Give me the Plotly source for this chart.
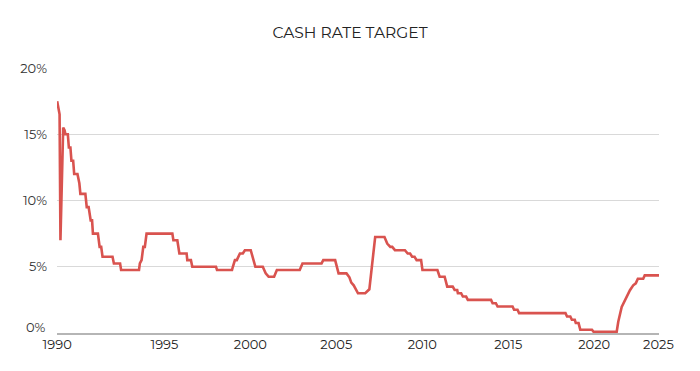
import plotly.graph_objects as go

# Decimal-year positions (as laid out on the chart) and cash rate target values (%)
years = [
    1988.76, 1988.90, 1988.95, 1989.11, 1989.19, 1989.24, 1989.38, 1989.44, 1989.53,
    1989.59, 1989.69, 1989.75, 1989.94, 1990.05, 1990.11, 1990.40, 1990.48, 1990.59,
    1990.71, 1990.79, 1990.84, 1991.13, 1991.23, 1991.32, 1991.40, 1991.98, 1992.06,
    1992.42, 1992.48, 1993.52, 1993.57, 1993.67, 1993.77, 1993.86, 1993.96, 1995.46,
    1995.52, 1995.75, 1995.87, 1996.29, 1996.33, 1996.54, 1996.62, 1998.00, 1998.06,
    1998.93, 1998.98, 1999.10, 1999.21, 1999.39, 1999.56, 1999.68, 2000.02, 2000.29,
    2000.72, 2000.81, 2000.89, 2001.06, 2001.38, 2001.54, 2002.87, 2003.03, 2004.14,
    2004.24, 2004.93, 2005.13, 2005.59, 2005.76, 2005.87, 2006.01, 2006.26, 2006.68,
    2006.84, 2006.92, 2007.26, 2007.80, 2007.96, 2008.14, 2008.25, 2008.41, 2008.99,
    2009.15, 2009.29, 2009.41, 2009.55, 2009.67, 2009.93, 2010.01, 2010.88, 2011.01,
    2011.30, 2011.45, 2011.77, 2011.88, 2012.03, 2012.07, 2012.26, 2012.36, 2012.55,
    2012.65, 2014.00, 2014.09, 2014.28, 2014.38, 2015.25, 2015.34, 2015.54, 2015.63,
    2018.33, 2018.42, 2018.61, 2018.70, 2018.87, 2018.93, 2019.09, 2019.19, 2019.87,
    2019.96, 2021.31, 2021.40, 2021.60, 2021.79, 2022.08, 2022.27, 2022.42, 2022.54,
    2022.85, 2022.94, 2023.77,
]
rates = [
    17.5, 16.5, 7.0, 15.5, 15.3, 15.0, 15.0, 14.0, 14.0,
    13.0, 13.0, 12.0, 12.0, 11.3, 10.5, 10.5, 9.5, 9.5,
    8.5, 8.5, 7.5, 7.5, 6.5, 6.5, 5.75, 5.75, 5.25,
    5.25, 4.75, 4.75, 5.25, 5.5, 6.5, 6.5, 7.5, 7.5,
    7.0, 7.0, 6.0, 6.0, 5.5, 5.5, 5.0, 5.0, 4.75,
    4.75, 5.0, 5.5, 5.5, 6.0, 6.0, 6.25, 6.25, 5.0,
    5.0, 4.75, 4.5, 4.25, 4.25, 4.75, 4.75, 5.25, 5.25,
    5.5, 5.5, 4.5, 4.5, 4.2, 3.8, 3.6, 3.0, 3.0,
    3.25, 3.3, 7.25, 7.25, 6.75, 6.5, 6.5, 6.25, 6.25,
    6.0, 6.0, 5.75, 5.75, 5.5, 5.5, 4.75, 4.75, 4.25,
    4.25, 3.5, 3.5, 3.25, 3.25, 3.0, 3.0, 2.75, 2.75,
    2.5, 2.5, 2.25, 2.25, 2.0, 2.0, 1.75, 1.75, 1.5,
    1.5, 1.25, 1.25, 1.0, 1.0, 0.75, 0.75, 0.25, 0.25,
    0.1, 0.1, 0.85, 1.97, 2.47, 3.23, 3.6, 3.75, 4.1,
    4.1, 4.35, 4.35,
]

x_tick_positions = [1988.76, 1995, 2000, 2005, 2010, 2015, 2020, 2023.74]
x_tick_labels = ["1990", "1995", "2000", "2005", "2010", "2015", "2020", "2025"]
y_tick_values = [0, 5, 10, 15, 20]
y_tick_labels = ["", "5%", "10%", "15%", "20%"]
zero_label = "0%"

FONT = "Montserrat, Lato, 'Open Sans', sans-serif"

fig = go.Figure(
    go.Scatter(
        x=years, y=rates, mode="lines",
        line=dict(color="#d9534f", width=2.6),
        hoverinfo="skip",
    )
)

fig.update_layout(
    width=700, height=371,
    margin=dict(l=45, r=49, t=60, b=46),
    paper_bgcolor="white", plot_bgcolor="white",
    showlegend=False,
    title=dict(text="CASH RATE TARGET", x=0.4886, xanchor="center", y=0.935, yanchor="middle",
               font=dict(family=FONT, size=15.5, color="#222222")),
    font=dict(family=FONT, size=13, color="#333333"),
)
fig.update_xaxes(
    range=[1988.75, 2023.77], tickmode="array",
    tickvals=x_tick_positions, ticktext=x_tick_labels,
    showgrid=False, zeroline=False,
    showline=True, linecolor="#b5b5b5", linewidth=2,
    ticks="", ticklabelstandoff=-2,
    tickfont=dict(family=FONT, size=13, color="#222222"),
)
fig.update_yaxes(
    range=[0, 20], tickmode="array",
    tickvals=y_tick_values, ticktext=y_tick_labels,
    showgrid=True, gridcolor="#d9d9d9", gridwidth=1,
    zeroline=False, showline=False, ticks="",
    ticklabelstandoff=9,
    tickfont=dict(family=FONT, size=13, color="#333333"),
)
fig.add_annotation(
    text=zero_label, xref="paper", yref="y", x=0, y=0,
    xanchor="right", yanchor="middle", xshift=-9, yshift=6, showarrow=False,
    font=dict(family=FONT, size=13, color="#333333"),
)

fig.write_html("out.html")
